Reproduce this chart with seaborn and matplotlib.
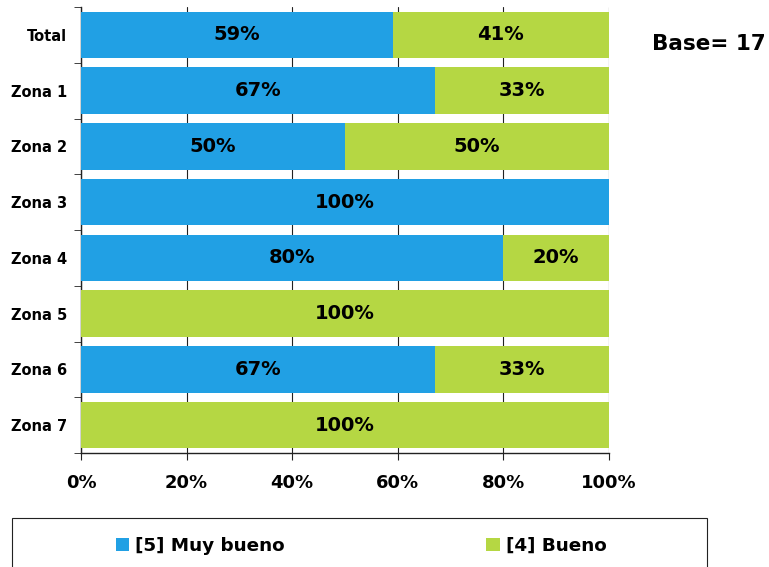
import numpy as np
import pandas as pd
import matplotlib
matplotlib.use('Agg')
import matplotlib.pyplot as plt
import seaborn as sns
from matplotlib.patches import Rectangle
from matplotlib.ticker import FixedLocator, PercentFormatter

# data
zonas = ['Total', 'Zona 1', 'Zona 2', 'Zona 3', 'Zona 4', 'Zona 5', 'Zona 6', 'Zona 7']
muy_bueno = [59, 67, 50, 100, 80, 0, 67, 0]
bueno = [41, 33, 50, 0, 20, 100, 33, 100]
base_n = 17

azul = '#21A0E4'
verde = '#B5D743'

sns.set_style('white')
plt.rcParams['font.family'] = ['DejaVu Sans']
plt.rcParams['font.weight'] = 'bold'
plt.rcParams['text.color'] = 'black'
plt.rcParams['xtick.color'] = 'black'
plt.rcParams['ytick.color'] = 'black'

df = pd.DataFrame({'zona': zonas, 'muy': muy_bueno, 'bueno': bueno})
df['total'] = df['muy'] + df['bueno']

fig = plt.figure(figsize=(7.69, 5.67), dpi=100)
ax = fig.add_axes([81/769, 1 - 453/567, 528/769, 446/567])

sns.barplot(data=df, x='total', y='zona', orient='h', color=verde, width=0.83,
            saturation=1, ax=ax, zorder=3, label='[4] Bueno', linewidth=0)
sns.barplot(data=df, x='muy', y='zona', orient='h', color=azul, width=0.83,
            saturation=1, ax=ax, zorder=4, label='[5] Muy bueno', linewidth=0)
handles, labels = ax.get_legend_handles_labels()
if ax.get_legend() is not None:
    ax.get_legend().remove()

for i, row in df.iterrows():
    if row['muy'] > 0:
        ax.text(row['muy'] / 2, i, f"{row['muy']}%", ha='center', va='center',
                fontsize=14, fontweight='bold', zorder=5)
    if row['bueno'] > 0:
        ax.text(row['muy'] + row['bueno'] / 2, i, f"{row['bueno']}%", ha='center',
                va='center', fontsize=14, fontweight='bold', zorder=5)

ax.set_xlim(0, 100)
ax.set_ylim(len(zonas) - 0.5, -0.5)
ax.set_xticks(np.arange(0, 101, 20))
ax.xaxis.set_major_formatter(PercentFormatter(decimals=0))
ax.xaxis.grid(True, color='#222222', linewidth=0.8, zorder=0)
ax.set_axisbelow(True)
ax.set_xlabel('')
ax.set_ylabel('')

ax.yaxis.set_minor_locator(FixedLocator(np.arange(-0.5, len(zonas), 1)))
ax.tick_params(axis='y', which='major', length=0, pad=10, labelsize=10.5)
ax.tick_params(axis='y', which='minor', length=5, direction='out', left=True, color='#222222')
ax.tick_params(axis='x', which='major', length=5, direction='out', bottom=True,
               pad=10, labelsize=13, color='#222222')
for lab in ax.get_xticklabels() + ax.get_yticklabels():
    lab.set_fontweight('bold')

for s in ['top', 'right']:
    ax.spines[s].set_visible(False)
for s in ['left', 'bottom']:
    ax.spines[s].set_color('#222222')
    ax.spines[s].set_linewidth(1)

fig.text(652/769, 1 - 44/567, f'Base= {base_n}', fontsize=15.5, fontweight='bold',
         ha='left', va='center')

# legend box
fig.patches.append(Rectangle((12/769, -0.01), 695/769, 1 - 518/567 + 0.01,
                             transform=fig.transFigure, fill=False,
                             edgecolor='#222222', linewidth=0.8))
order = [labels.index('[5] Muy bueno'), labels.index('[4] Bueno')]
fig.legend([handles[k] for k in order], [labels[k] for k in order],
           loc='center', bbox_to_anchor=(361/769, 1 - 546/567), ncol=2,
           frameon=False, handlelength=0.75, handleheight=0.75, handletextpad=0.3,
           columnspacing=11.0, prop={'size': 13.2, 'weight': 'bold'})

fig.savefig('out.png', dpi=100)
